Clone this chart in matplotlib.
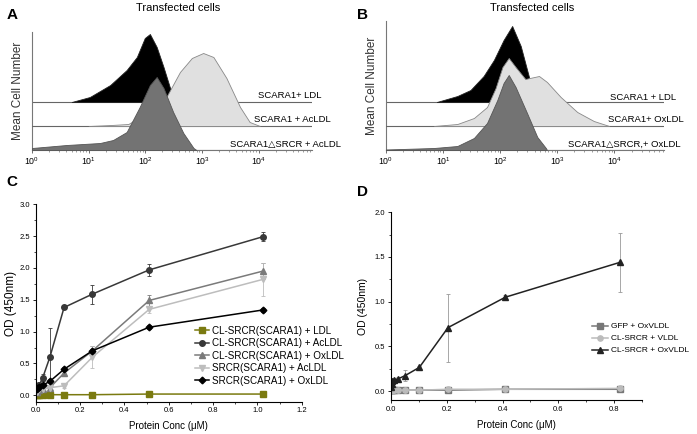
import numpy as np
import matplotlib
matplotlib.use("Agg")
import matplotlib.pyplot as plt
from matplotlib.ticker import MultipleLocator, LogLocator, NullFormatter

plt.rcParams['font.family'] = ['Liberation Sans', 'DejaVu Sans']
plt.rcParams['mathtext.fontset'] = 'custom'
plt.rcParams['mathtext.rm'] = 'Liberation Sans'
plt.rcParams['mathtext.it'] = 'Liberation Sans'

# ---- panel A: flow histograms (log10 fluorescence, height in counts) ----
a_ldl_log = [0.70, 1.02, 1.38, 1.67, 1.85, 1.99, 2.08, 2.20, 2.32, 2.43, 2.55]
a_ldl_h = [0, 5, 17, 32, 45, 64, 68, 55, 35, 15, 0]
a_acldl_log = [1.00, 1.40, 1.70, 1.96, 2.37, 2.61, 2.82, 3.02, 3.20, 3.43, 3.67, 3.84, 4.02]
a_acldl_h = [0, 1, 2, 11, 29, 54, 68, 73, 69, 48, 19, 4, 0]
a_dsrcr_log = [0.0, 0.61, 1.20, 1.43, 1.67, 1.90, 2.08, 2.20, 2.32, 2.49, 2.67, 2.85, 2.90]
a_dsrcr_h = [2, 5, 7, 10, 18, 43, 65, 73, 62, 38, 17, 2, 0]

# ---- panel B ----
b_ldl_log = [0.89, 1.25, 1.48, 1.71, 1.89, 2.06, 2.21, 2.36, 2.50, 2.62]
b_ldl_h = [0, 6, 12, 26, 42, 62, 76, 56, 26, 0]
b_oxldl_log = [0.84, 1.25, 1.54, 1.77, 1.92, 2.04, 2.15, 2.27, 2.44, 2.68, 2.82, 3.06, 3.35, 3.64, 3.91]
b_oxldl_h = [0, 2, 8, 19, 38, 59, 68, 59, 47, 50, 44, 29, 14, 5, 0]
b_dsrcr_log = [0.0, 0.84, 1.25, 1.54, 1.77, 1.95, 2.06, 2.15, 2.27, 2.47, 2.65, 2.80, 2.82]
b_dsrcr_h = [0.5, 2, 4, 12, 27, 50, 67, 75, 63, 37, 13, 2, 0]

hist_labels_a = ["SCARA1+ LDL", "SCARA1 + AcLDL", "SCARA1\u25b3SRCR + AcLDL"]
hist_labels_b = ["SCARA1 + LDL", "SCARA1+ OxLDL", "SCARA1\u25b3SRCR,+ OxLDL"]

# ---- panel C: ELISA binding ----
c_conc = [1.024, 0.512, 0.256, 0.128, 0.064, 0.032, 0.016, 0.008, 0.004]
c_ldl = [0.02, 0.02, 0.01, 0.01, 0.01, 0.01, 0.01, 0.01, 0.01]
c_ldl_err = [0.01, 0.01, 0.01, 0.01, 0.01, 0.01, 0.01, 0.01, 0.01]
c_acldl = [2.49, 1.97, 1.59, 1.38, 0.60, 0.28, 0.16, 0.12, 0.10]
c_acldl_err = [0.07, 0.10, 0.15, 0.03, 0.46, 0.05, 0.05, 0.04, 0.04]
c_oxldl = [1.95, 1.49, 0.70, 0.35, 0.12, 0.10, 0.08, 0.06, 0.05]
c_oxldl_err = [0.13, 0.08, 0.08, 0.04, 0.03, 0.03, 0.03, 0.03, 0.03]
c_s_acldl = [1.82, 1.35, 0.60, 0.15, 0.12, 0.10, 0.10, 0.08, 0.06]
c_s_acldl_err = [0.26, 0.06, 0.17, 0.03, 0.03, 0.05, 0.05, 0.03, 0.03]
c_s_oxldl = [1.34, 1.07, 0.70, 0.41, 0.22, 0.16, 0.13, 0.11, 0.10]
c_s_oxldl_err = [0.03, 0.03, 0.03, 0.03, 0.03, 0.02, 0.02, 0.02, 0.02]

# ---- panel D ----
d_conc = [0.82, 0.41, 0.205, 0.1025, 0.051, 0.0256, 0.0128, 0.0064, 0.0032, 0.0016]
d_gfp = [0.02, 0.02, 0.01, 0.01, 0.01, 0.01, 0.01, 0.01, 0.01, 0.01]
d_gfp_err = [0.01] * 10
d_vldl = [0.03, 0.02, 0.02, 0.01, 0.01, 0.01, 0.01, 0.01, 0.01, 0.01]
d_vldl_err = [0.01] * 10
d_oxvldl = [1.44, 1.05, 0.71, 0.265, 0.172, 0.135, 0.125, 0.11, 0.08, 0.05]
d_oxvldl_err = [0.33, 0.02, 0.38, 0.02, 0.06, 0.02, 0.02, 0.02, 0.02, 0.02]

W, H = 697, 434
fig = plt.figure(figsize=(W / 100, H / 100), dpi=100)


def box(left, top, right, bottom):
    return [left / W, (H - bottom) / H, (right - left) / W, (bottom - top) / H]


def hist_panel(ax, curves, labels, xmax_log, ytop, label_pos):
    # curves: list of (log, heights, face, edge), top to bottom
    offsets = [48, 24, 0]
    for i, (lg, h, fc, ec) in enumerate(curves):
        off = offsets[i]
        x = 10 ** np.array(lg)
        y = np.array(h) + off
        ax.plot([1, 10 ** xmax_log], [off, off], color='#666666', lw=0.8, zorder=2 + 2 * i)
        ax.fill_between(x, off, y, facecolor=fc, edgecolor=ec, lw=0.6, zorder=3 + 2 * i)
    for (tx, ty), lab in zip(label_pos, labels):
        ax.text(tx, ty, lab, fontsize=6.8, transform=ax.transAxes, va='center', ha='left')
    ax.set_xscale('log')
    ax.set_xlim(1, 10 ** xmax_log)
    ax.set_ylim(0, ytop)
    ax.set_yticks([])
    for s in ['top', 'right']:
        ax.spines[s].set_visible(False)
    for s in ['left', 'bottom']:
        ax.spines[s].set_color('#777777')
        ax.spines[s].set_linewidth(0.8)
    ax.xaxis.set_minor_locator(LogLocator(base=10, subs=np.arange(2, 10), numticks=10))
    ax.xaxis.set_minor_formatter(NullFormatter())
    ax.set_xticks([1, 10, 100, 1000, 10000])
    ax.set_xticklabels(['$10^{0}$', '$10^{1}$', '$10^{2}$', '$10^{3}$', '$10^{4}$'])
    ax.tick_params(axis='x', which='major', length=2.5, width=0.6, labelsize=6.3, pad=1.5, color='#555555')
    ax.tick_params(axis='x', which='minor', length=1.3, width=0.4, color='#555555')
    ax.set_ylabel('Mean Cell Number', fontsize=8.5, labelpad=6, color='#333333')


axA = fig.add_axes(box(32, 32, 312, 150))
hist_panel(axA,
           [(a_ldl_log, a_ldl_h, 'black', '#222222'),
            (a_acldl_log, a_acldl_h, '#e0e0e0', '#888888'),
            (a_dsrcr_log, a_dsrcr_h, '#737373', '#555555')],
           hist_labels_a, 4.94, 118,
           [((258 - 32) / 280, (150 - 96) / 118), ((254 - 32) / 280, (150 - 120) / 118),
            ((230 - 32) / 280, (150 - 144) / 118)])

axB = fig.add_axes(box(386, 21, 664, 150))
hist_panel(axB,
           [(b_ldl_log, b_ldl_h, 'black', '#222222'),
            (b_oxldl_log, b_oxldl_h, '#e0e0e0', '#888888'),
            (b_dsrcr_log, b_dsrcr_h, '#737373', '#555555')],
           hist_labels_b, 4.87, 129,
           [((610 - 386) / 278, (150 - 97) / 129), ((608 - 386) / 278, (150 - 119) / 129),
            ((568 - 386) / 278, (150 - 144) / 129)])

fig.text(178 / W, 1 - 8 / H, 'Transfected cells', fontsize=8, ha='center', va='center')
fig.text(532 / W, 1 - 8 / H, 'Transfected cells', fontsize=8, ha='center', va='center')


def elisa_style(ax, xmax, ymax, ylab_size, ylab_pad):
    ax.set_xlim(0, xmax)
    ax.set_ylim(-0.1, ymax)
    for s in ['top', 'right']:
        ax.spines[s].set_visible(False)
    for s in ['left', 'bottom']:
        ax.spines[s].set_linewidth(0.8)
    ax.xaxis.set_major_locator(MultipleLocator(0.2))
    ax.xaxis.set_minor_locator(MultipleLocator(0.1))
    ax.yaxis.set_major_locator(MultipleLocator(0.5))
    ax.yaxis.set_minor_locator(MultipleLocator(0.25))
    ax.xaxis.set_major_formatter(matplotlib.ticker.FormatStrFormatter('%.1f'))
    ax.yaxis.set_major_formatter(matplotlib.ticker.FormatStrFormatter('%.1f'))
    ax.tick_params(which='major', length=2.5, width=0.6, labelsize=5.5, pad=1.5)
    ax.tick_params(which='minor', length=1.5, width=0.5)
    ax.set_xlabel('Protein Conc (\u03bcM)', fontsize=7, labelpad=5)
    ax.set_ylabel('OD (450nm)', fontsize=ylab_size, labelpad=ylab_pad)


axC = fig.add_axes(box(35.7, 204.3, 301.7, 401.7))
c_series = [
    (c_ldl, c_ldl_err, '#7a7a10', 's', 'CL-SRCR(SCARA1) + LDL'),
    (c_acldl, c_acldl_err, '#383838', 'o', 'CL-SRCR(SCARA1) + AcLDL'),
    (c_oxldl, c_oxldl_err, '#7a7a7a', '^', 'CL-SRCR(SCARA1) + OxLDL'),
    (c_s_acldl, c_s_acldl_err, '#bdbdbd', 'v', 'SRCR(SCARA1) + AcLDL'),
    (c_s_oxldl, c_s_oxldl_err, '#000000', 'D', 'SRCR(SCARA1) + OxLDL'),
]
for y, e, col, mk, lab in c_series:
    ax_ms = 3.4 if mk == 'D' else 4.0
    axC.errorbar(c_conc, y, yerr=e, color=col, ecolor=col, marker=mk, ms=ax_ms, lw=1.1,
                 elinewidth=0.6, capsize=1.5, capthick=0.6, label=lab)
elisa_style(axC, 1.2, 3.0, 8.5, 2)
handles, labels = axC.get_legend_handles_labels()
axC.legend([h[0] for h in handles], labels, loc='upper left', bbox_to_anchor=(0.585, 0.405),
           frameon=False, fontsize=7.1, handlelength=1.4, handletextpad=0.3, labelspacing=0.25,
           borderaxespad=0)

axD = fig.add_axes(box(390.7, 212.3, 642.3, 400))
d_series = [
    (d_gfp, d_gfp_err, '#777777', 's', 'GFP + OxVLDL'),
    (d_vldl, d_vldl_err, '#bbbbbb', 'o', 'CL-SRCR + VLDL'),
    (d_oxvldl, d_oxvldl_err, '#222222', '^', 'CL-SRCR + OxVLDL'),
]
for y, e, col, mk, lab in d_series:
    axD.errorbar(d_conc, y, yerr=e, color=col, ecolor='#999999' if mk == '^' else col,
                 marker=mk, ms=3.8, lw=1.1, elinewidth=0.6, capsize=1.5, capthick=0.6, label=lab)
elisa_style(axD, 0.9, 2.0, 7.5, 5)
handles, labels = axD.get_legend_handles_labels()
axD.legend([h[0] for h in handles], labels, loc='upper left', bbox_to_anchor=(0.785, 0.43),
           frameon=False, fontsize=6, handlelength=2.0, handletextpad=0.3, labelspacing=0.5,
           borderaxespad=0)

for lab, x, y in [('A', 12, 15), ('B', 362, 15), ('C', 12, 182), ('D', 362, 192)]:
    fig.text(x / W, 1 - y / H, lab, fontsize=11, fontweight='bold', ha='center', va='center')

fig.savefig('out.png', dpi=100)
